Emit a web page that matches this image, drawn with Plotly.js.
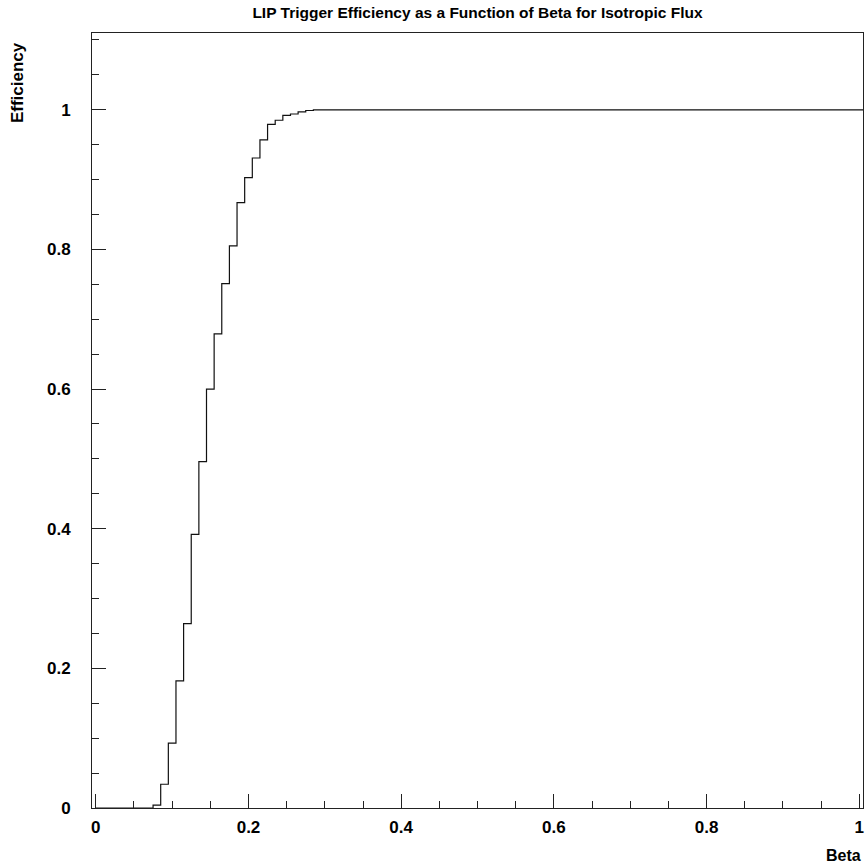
<!DOCTYPE html>
<html>
<head>
<meta charset="utf-8">
<script src="https://cdn.plot.ly/plotly-3.0.1.min.js"></script>
<style>html,body{margin:0;padding:0;background:#fff;}#chart{width:865px;height:865px;}</style>
</head>
<body>
<div id="chart"></div>
<script>
// Bin edges (beta) where the histogram value changes, and the value from each edge to the next
const betaEdges = [0.0, 0.075, 0.085, 0.095, 0.105, 0.115, 0.125, 0.135, 0.145, 0.155, 0.165,
  0.175, 0.185, 0.195, 0.205, 0.215, 0.225, 0.235, 0.245, 0.255, 0.265, 0.275, 0.285, 1.005];
const efficiency = [0.0, 0.004, 0.034, 0.093, 0.182, 0.264, 0.392, 0.496, 0.600, 0.679, 0.751,
  0.805, 0.867, 0.903, 0.931, 0.957, 0.979, 0.985, 0.992, 0.994, 0.997, 0.999, 1.0, 1.0];
const xTickVals = [0, 0.2, 0.4, 0.6, 0.8, 1];
const yTickVals = [0, 0.2, 0.4, 0.6, 0.8, 1];
const titleText = "LIP Trigger Efficiency as a Function of Beta for Isotropic Flux";
const xLabel = "Beta";
const yLabel = "Efficiency";

const font = {family: "Liberation Sans, Arial, sans-serif", color: "#000"};

const trace = {
  x: betaEdges, y: efficiency, type: "scatter", mode: "lines",
  line: {shape: "hv", color: "#111", width: 1.2},
  hoverinfo: "skip"
};

const axisCommon = {
  showgrid: false, zeroline: false, showline: true, linecolor: "#222", linewidth: 1,
  mirror: true, ticks: "inside", ticklen: 14, tickcolor: "#222", tickwidth: 1,
  tickfont: Object.assign({size: 17, weight: "bold"}, font),
  tickmode: "array"
};

const layout = {
  width: 865, height: 865,
  margin: {l: 92, r: 2, t: 33, b: 57},
  paper_bgcolor: "#fff", plot_bgcolor: "#fff",
  showlegend: false,
  title: {text: titleText, font: Object.assign({size: 15.5, weight: "bold"}, font),
          x: 0.552, xanchor: "center", y: 0.986, yanchor: "middle"},
  xaxis: Object.assign({}, axisCommon, {
    range: [-0.005, 1.005], tickvals: xTickVals, ticklabelstandoff: 4,
    minor: {tickmode: "linear", tick0: 0, dtick: 0.05, ticks: "inside", ticklen: 7, tickcolor: "#222", showgrid: false}
  }),
  yaxis: Object.assign({}, axisCommon, {
    range: [0, 1.11], tickvals: yTickVals, ticklabelstandoff: 17,
    minor: {tickmode: "linear", tick0: 0, dtick: 0.05, ticks: "inside", ticklen: 7, tickcolor: "#222", showgrid: false}
  }),
  annotations: [
    {text: xLabel, xref: "paper", yref: "paper", x: 1.0, y: -0.0613, xanchor: "right", yanchor: "middle",
     showarrow: false, font: Object.assign({size: 16, weight: "bold"}, font)},
    {text: yLabel, xref: "paper", yref: "paper", x: -0.0966, y: 0.936, xanchor: "center", yanchor: "middle",
     textangle: -90, showarrow: false, font: Object.assign({size: 17, weight: "bold"}, font)}
  ]
};

Plotly.newPlot("chart", [trace], layout, {staticPlot: true, displayModeBar: false});
</script>
</body>
</html>
